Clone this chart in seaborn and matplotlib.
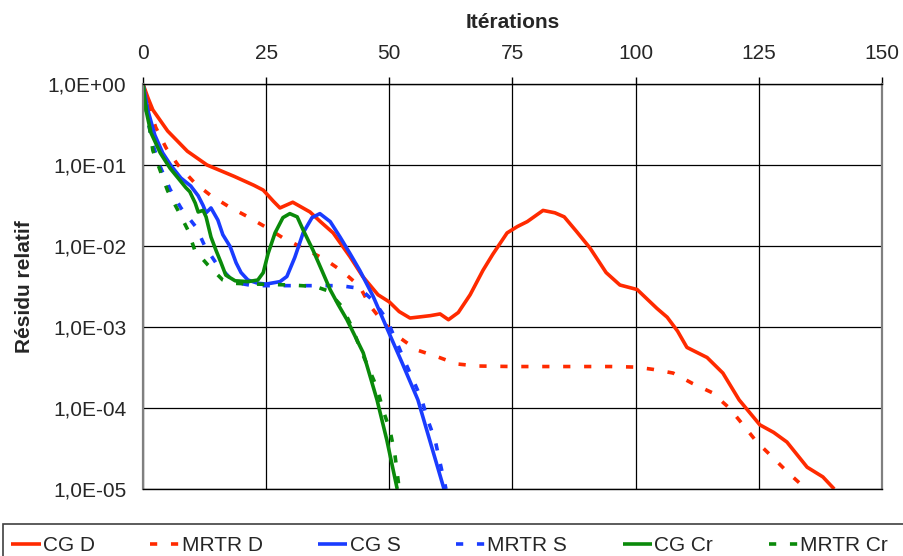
import numpy as np
import pandas as pd
import matplotlib
matplotlib.use("Agg")
import matplotlib.pyplot as plt
from matplotlib.patches import Rectangle
from matplotlib.ticker import FuncFormatter, FixedLocator, NullLocator
import seaborn as sns

# Relative residual versus iteration count for each solver / preconditioner
cg_d_iter = [0, 1, 2, 5, 9, 13, 18.5, 22.5, 24.4, 26.5, 27.8, 30.4, 33.9, 36, 38.6,
             42, 44.6, 47.7, 50, 52, 54.2, 58.3, 60.3, 62, 64, 66.4, 69, 71, 73.9,
             76, 78, 81.2, 83.6, 85.5, 88, 90.7, 94, 96.8, 100.3, 104.3, 106.4,
             108.5, 110.4, 114.5, 117.7, 121, 125.2, 128, 130.7, 134.8, 138, 140.3]
cg_d_res = [1.0, 0.676, 0.479, 0.263, 0.148, 0.1, 0.0724, 0.0562, 0.049, 0.0355,
            0.0295, 0.0347, 0.0263, 0.020, 0.0145, 0.0074, 0.0042, 0.0025, 0.00204,
            0.00155, 0.00129, 0.00138, 0.00145, 0.00123, 0.00151, 0.0025, 0.005,
            0.0079, 0.0145, 0.0174, 0.020, 0.0275, 0.0257, 0.0229, 0.0151, 0.0095,
            0.0047, 0.0033, 0.0029, 0.0017, 0.00132, 8.9e-4, 5.6e-4, 4.2e-4, 2.7e-4,
            1.26e-4, 6.2e-5, 5.0e-5, 3.8e-5, 1.86e-5, 1.41e-5, 1.0e-5]

mrtr_d_iter = [0, 1, 2.6, 4.7, 7.1, 10.5, 13.6, 17.3, 21.3, 25, 28.4, 33.3, 37,
               40.6, 44, 46, 48.7, 51.8, 55.6, 59.7, 63.7, 67.8, 75, 85, 95, 100,
               103.5, 107.6, 111.6, 115.5, 119, 121.8, 124.6, 127.7, 130.9, 134.6]
mrtr_d_res = [1.0, 0.56, 0.29, 0.162, 0.1, 0.060, 0.0427, 0.0309, 0.0229, 0.017,
              0.0126, 0.0089, 0.0068, 0.0048, 0.00316, 0.00186, 0.00115, 7.6e-4,
              5.2e-4, 4.3e-4, 3.5e-4, 3.3e-4, 3.25e-4, 3.25e-4, 3.25e-4, 3.2e-4,
              3.0e-4, 2.7e-4, 2.0e-4, 1.55e-4, 1.0e-4, 6.2e-5, 3.8e-5, 2.5e-5,
              1.6e-5, 1.0e-5]

cg_s_iter = [0, 1, 2.4, 4, 5.7, 7.7, 9.7, 11.2, 12.2, 12.8, 13.8, 15.2, 16.2, 17.7,
             18.9, 19.9, 21.3, 23.3, 25, 27.8, 29.2, 30.8, 32.5, 34.3, 35.9, 38, 40,
             42, 44, 46.7, 49.7, 52.6, 55.8, 58.2, 61.1]
cg_s_res = [1.0, 0.47, 0.234, 0.141, 0.098, 0.069, 0.055, 0.0417, 0.0316, 0.0257,
            0.0295, 0.0209, 0.0138, 0.0098, 0.0062, 0.0047, 0.0038, 0.00347,
            0.00339, 0.00363, 0.0042, 0.0072, 0.0145, 0.0224, 0.0251, 0.020, 0.0129,
            0.0081, 0.005, 0.0024, 9.1e-4, 3.6e-4, 1.26e-4, 4.0e-5, 1.0e-5]

mrtr_s_iter = [0, 1, 2, 3.5, 5.5, 7.7, 10.8, 12.6, 14.8, 17.7, 19.5, 22.3, 30, 36,
               40, 44, 47, 49.5, 51.5, 53.2, 54.8, 56.6, 57.8, 59.3, 60.3, 61.5]
mrtr_s_res = [1.0, 0.355, 0.178, 0.095, 0.05, 0.0295, 0.017, 0.0098, 0.0062, 0.004,
              0.00347, 0.00324, 0.00324, 0.00324, 0.00324, 0.003, 0.00204, 0.00123,
              6.5e-4, 3.7e-4, 2.24e-4, 1.26e-4, 7.1e-5, 4.0e-5, 2.1e-5, 1.0e-5]

cg_cr_iter = [0, 0.6, 1.6, 3.5, 5.5, 7.5, 8.7, 9.5, 10.6, 11.2, 12.2, 12.8, 13.8,
              14.8, 15.8, 16.8, 18.7, 21.3, 23.3, 24.4, 25.4, 26.8, 28.4, 29.8, 31.3,
              32.5, 34.5, 36.3, 38, 39.6, 41.4, 44.7, 47.5, 49.5, 51.6]
cg_cr_res = [1.0, 0.479, 0.251, 0.141, 0.091, 0.0646, 0.0525, 0.0468, 0.0339,
             0.0263, 0.0275, 0.0229, 0.0129, 0.0089, 0.0063, 0.00437, 0.00372,
             0.00363, 0.0038, 0.00468, 0.0081, 0.0145, 0.0224, 0.0251, 0.0229,
             0.0158, 0.0089, 0.005, 0.00288, 0.0019, 0.00123, 4.8e-4, 1.26e-4,
             4.0e-5, 1.0e-5]

mrtr_cr_iter = [0, 0.6, 1.4, 2, 3.5, 5, 7.1, 9.1, 10.5, 13.2, 16.2, 18, 22, 30, 35,
                37.5, 40.4, 42.4, 44, 45.7, 47.5, 48.7, 50.1, 51.1, 51.6, 52]
mrtr_cr_res = [1.0, 0.5, 0.27, 0.151, 0.085, 0.048, 0.0275, 0.0158, 0.0089, 0.0058,
               0.0038, 0.00347, 0.0034, 0.0033, 0.00316, 0.0028, 0.00178, 0.001,
               5.6e-4, 3.2e-4, 1.78e-4, 9.5e-5, 5.4e-5, 2.75e-5, 1.58e-5, 1.0e-5]

series_names = ["CG D", "MRTR D", "CG S", "MRTR S", "CG Cr", "MRTR Cr"]
x_ticks = [0, 25, 50, 75, 100, 125, 150]
y_ticks = [1e-5, 1e-4, 1e-3, 1e-2, 1e-1, 1e0]

RED, BLUE, GREEN = "#FF2A00", "#1A3CFF", "#0A8A0A"
styles = {
    "CG D": (RED, False), "MRTR D": (RED, True),
    "CG S": (BLUE, False), "MRTR S": (BLUE, True),
    "CG Cr": (GREEN, False), "MRTR Cr": (GREEN, True),
}
data = {
    "CG D": (cg_d_iter, cg_d_res), "MRTR D": (mrtr_d_iter, mrtr_d_res),
    "CG S": (cg_s_iter, cg_s_res), "MRTR S": (mrtr_s_iter, mrtr_s_res),
    "CG Cr": (cg_cr_iter, cg_cr_res), "MRTR Cr": (mrtr_cr_iter, mrtr_cr_res),
}

sns.set_style("white")
plt.rcParams["font.family"] = ["Liberation Sans", "DejaVu Sans"]
plt.rcParams["font.size"] = 15

fig = plt.figure(figsize=(9.04, 5.56), dpi=100)
ax = fig.add_axes([143 / 904, 1 - 489 / 556, (882 - 143) / 904, (489 - 84) / 556])

for name in series_names:
    xs, ys = data[name]
    color, dashed = styles[name]
    df = pd.DataFrame({"iter": xs, "res": ys})
    sns.lineplot(data=df, x="iter", y="res", ax=ax, color=color, lw=2.6,
                 label=name, legend=False, sort=False, estimator=None)
    line = ax.lines[-1]
    line.set_solid_capstyle("butt")
    if dashed:
        line.set_linestyle((0, (2.0, 3.8)))
        line.set_dash_capstyle("butt")

ax.set_yscale("log")
ax.set_ylim(1e-5, 1.0)
ax.set_xlim(0, 150)
ax.yaxis.set_major_locator(FixedLocator(y_ticks))
ax.yaxis.set_minor_locator(NullLocator())


def sci_comma(v, pos):
    e = int(np.round(np.log10(v)))
    m = v / 10 ** e
    return f"{m:.1f}".replace(".", ",") + f"E{e:+03d}"


ax.yaxis.set_major_formatter(FuncFormatter(sci_comma))
ax.xaxis.set_major_locator(FixedLocator(x_ticks))
ax.xaxis.tick_top()
ax.xaxis.set_label_position("top")
ax.tick_params(axis="x", which="major", direction="out", length=5, width=1,
               color="black", pad=10, labelsize=15)
ax.tick_params(axis="y", which="major", direction="out", length=5, width=1,
               color="black", pad=7, labelsize=15)
ax.set_xlabel("Itérations", fontweight="bold", fontsize=15, labelpad=12)
ax.set_ylabel("Résidu relatif", fontweight="bold", fontsize=15, labelpad=10)

ax.grid(True, which="major", color="black", lw=0.9)
for side in ["left", "right"]:
    ax.spines[side].set_color("#808080")
    ax.spines[side].set_linewidth(1.6)
for side in ["top", "bottom"]:
    ax.spines[side].set_color("black")
    ax.spines[side].set_linewidth(1.0)

# Legend row along the bottom; its box runs past the right and bottom edges
handles = ax.lines[:6]
fig.legend(handles, series_names, loc="upper left", ncol=6, mode="expand",
           bbox_to_anchor=(3 / 904, -0.2, 0.988, 0.2 + 1 - 528 / 556),
           frameon=False, handlelength=1.4, handletextpad=0.1,
           columnspacing=1.5, borderpad=0.4, fontsize=15, borderaxespad=0)
fig.patches.append(Rectangle((3 / 904, -0.1), 1.2, 0.1 + (556 - 524) / 556,
                             transform=fig.transFigure, fill=False,
                             edgecolor="#404040", lw=1.2))

fig.savefig("out.png", dpi=100)
